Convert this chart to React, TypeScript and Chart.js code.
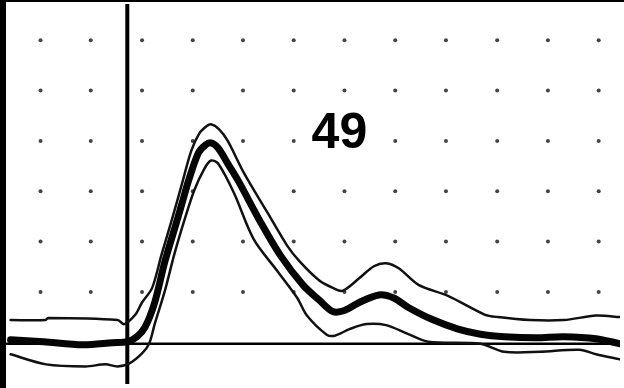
import { useEffect, useRef } from "react";
import { Chart, registerables } from "chart.js";
Chart.register(...registerables);

// Axis ranges (grid divisions)
const xRange = [-2.43, 9.71];
const yRange = [-0.8, 6.75];

// Grid dot positions
const dotColumns = [-1.71, -0.72, 0.29, 1.29, 2.28, 3.28, 4.28, 5.28, 6.28, 7.29, 8.29, 9.29];
const dotRows = [1.03, 2.03, 3.03, 4.03, 5.03, 6.03];

// Mean (thick) curve
const meanX = [-2.3, -1.65, -0.88, -0.29, 0, 0.19, 0.35, 0.54, 0.74, 0.93, 1.07, 1.21, 1.4, 1.54, 1.65, 1.79, 1.98, 2.18, 2.63, 3.02, 3.46, 3.79, 4.05, 4.28, 4.57, 4.96, 5.25, 5.54, 5.99, 6.52, 6.96, 7.43, 8.07, 8.6, 9.24, 9.71];
const meanY = [0.08, 0.04, -0.02, 0.02, 0.04, 0.14, 0.33, 0.82, 1.63, 2.28, 2.76, 3.25, 3.79, 3.95, 3.99, 3.89, 3.58, 3.25, 2.41, 1.75, 1.17, 0.86, 0.64, 0.66, 0.82, 0.97, 0.91, 0.72, 0.49, 0.29, 0.19, 0.14, 0.12, 0.14, 0.1, 0.0];

// Upper band (thin)
const upperX = [-2.3, -1.61, -1.56, -0.19, -0.06, 0.16, 0.29, 0.49, 0.68, 0.88, 1.07, 1.26, 1.42, 1.56, 1.65, 1.81, 1.98, 2.3, 2.76, 3.15, 3.4, 3.79, 4.05, 4.24, 4.57, 4.86, 5.1, 5.35, 5.74, 6.32, 7.04, 7.3, 7.94, 8.6, 9.24, 9.71];
const upperY = [0.47, 0.47, 0.51, 0.47, 0.39, 0.58, 0.82, 1.11, 1.79, 2.47, 3.15, 3.83, 4.18, 4.32, 4.36, 4.26, 4.03, 3.39, 2.61, 1.95, 1.63, 1.25, 1.11, 1.05, 1.3, 1.54, 1.6, 1.5, 1.17, 0.95, 0.58, 0.53, 0.47, 0.47, 0.56, 0.53];

// Lower band (thin)
const lowerX = [-2.3, -1.6, -0.82, -0.43, -0.19, 0.04, 0.29, 0.43, 0.54, 0.74, 0.93, 1.13, 1.32, 1.52, 1.65, 1.79, 2.1, 2.49, 2.96, 3.35, 3.54, 3.93, 4.09, 4.38, 4.71, 5.1, 5.54, 5.93, 6.96, 7.43, 8.13, 8.91, 9.24, 9.71];
const lowerY = [-0.21, -0.41, -0.45, -0.41, -0.45, -0.39, -0.19, 0.0, 0.39, 1.05, 1.79, 2.47, 3.05, 3.48, 3.64, 3.58, 3.0, 2.08, 1.44, 0.91, 0.56, 0.18, 0.16, 0.29, 0.39, 0.37, 0.19, 0.04, 0.0, -0.16, -0.16, -0.12, -0.21, -0.31];

const label = "49";
const labelPos = [4.18, 4.26];

const zip = (xs: number[], ys: number[]) => xs.map((x, i) => ({ x, y: ys[i] }));

export default function App() {
  const ref = useRef<HTMLCanvasElement>(null);
  useEffect(() => {
    if (!ref.current) return;
    const dots: { x: number; y: number }[] = [];
    dotRows.forEach((y) => dotColumns.forEach((x) => dots.push({ x, y })));

    const framePlugin = {
      id: "frame",
      beforeDraw(chart: any) {
        const c = chart.ctx;
        c.save();
        c.fillStyle = "#ffffff";
        c.fillRect(0, 0, chart.width, chart.height);
        c.restore();
      },
      afterDraw(chart: any) {
        const c = chart.ctx;
        const xs = chart.scales.x;
        const ys = chart.scales.y;
        c.save();
        c.fillStyle = "#000000";
        c.font = "bold 50px 'Liberation Sans', Arial, sans-serif";
        c.textAlign = "center";
        c.textBaseline = "alphabetic";
        c.fillText(label, xs.getPixelForValue(labelPos[0]), ys.getPixelForValue(labelPos[1]) + 19);
        c.fillRect(0, 0, 6, chart.height);
        c.fillRect(0, 0, chart.width, 2);
        c.restore();
      },
    };

    const chart = new Chart(ref.current, {
      type: "scatter",
      data: {
        datasets: [
          {
            data: zip(meanX, meanY),
            showLine: true,
            borderColor: "#050505",
            borderWidth: 7,
            pointRadius: 0,
            tension: 0.3,
            order: 1,
          },
          {
            data: zip(upperX, upperY),
            showLine: true,
            borderColor: "#111111",
            borderWidth: 2.5,
            pointRadius: 0,
            tension: 0.3,
            order: 2,
          },
          {
            data: zip(lowerX, lowerY),
            showLine: true,
            borderColor: "#111111",
            borderWidth: 2.5,
            pointRadius: 0,
            tension: 0.3,
            order: 3,
          },
          {
            data: [
              { x: 0, y: yRange[0] },
              { x: 0, y: yRange[1] },
            ],
            showLine: true,
            borderColor: "#000000",
            borderWidth: 4,
            pointRadius: 0,
            order: 4,
          },
          {
            data: [
              { x: xRange[0], y: 0 },
              { x: xRange[1], y: 0 },
            ],
            showLine: true,
            borderColor: "#000000",
            borderWidth: 2.5,
            pointRadius: 0,
            order: 5,
          },
          {
            data: dots,
            showLine: false,
            pointRadius: 2,
            pointBackgroundColor: "#444444",
            pointBorderWidth: 0,
            order: 6,
          },
        ],
      },
      options: {
        responsive: false,
        animation: false,
        layout: { padding: 0 },
        plugins: { legend: { display: false }, tooltip: { enabled: false } },
        scales: {
          x: { type: "linear", min: xRange[0], max: xRange[1], display: false },
          y: { type: "linear", min: yRange[0], max: yRange[1], display: false },
        },
        elements: { line: { borderCapStyle: "round", borderJoinStyle: "round" } },
      },
      plugins: [framePlugin],
    });
    return () => chart.destroy();
  }, []);
  return (
    <div style={{ position: "fixed", left: 0, top: 0, width: 624, height: 388, background: "#fff" }}>
      <canvas ref={ref} width={624} height={388} style={{ display: "block" }} />
    </div>
  );
}
